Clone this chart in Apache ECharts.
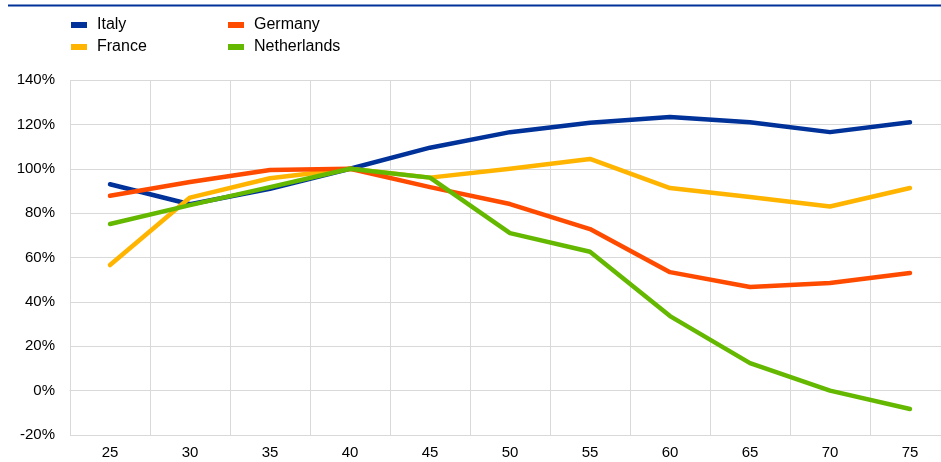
<!DOCTYPE html>
<html>
<head>
<meta charset="utf-8">
<script src="https://cdn.jsdelivr.net/npm/echarts@6/dist/echarts.min.js"></script>
<style>
html,body{margin:0;padding:0;background:#fff;overflow:hidden;width:941px;height:462px;}
#c{width:950px;height:462px;}
</style>
</head>
<body>
<div id="c"></div>
<script>
const categories = ['25','30','35','40','45','50','55','60','65','70','75'];
const italy = [93, 84, 91, 100, 109.5, 116.5, 120.7, 123.3, 121, 116.5, 121];
const france = [56.6, 87, 95.7, 100, 96, 100, 104.4, 91.3, 87.3, 83, 91.3];
const germany = [87.8, 94, 99.4, 100, 91.7, 84.1, 72.8, 53.4, 46.7, 48.5, 53];
const netherlands = [75.1, 83.6, 91.7, 100, 96, 71, 62.6, 33.6, 12.4, 0, -8.3];
const yTicks = [-20, 0, 20, 40, 60, 80, 100, 120, 140];

const colors = {Italy:'#003299', France:'#FFB400', Germany:'#FF4B00', Netherlands:'#65B800'};
const font = 'Liberation Sans, Arial, sans-serif';

const chart = echarts.init(document.getElementById('c'), null, {renderer:'canvas'});

function legendAt(name, left, top){
  return {
    data:[name], left:left, top:top, orient:'horizontal',
    itemWidth:16, itemHeight:6, icon:'rect', padding:0,
    textStyle:{fontFamily:font, fontSize:16, color:'#000', padding:[0,0,0,5]},
    selectedMode:false
  };
}
function mk(name, data){
  return {
    name:name, type:'line', data:data, symbol:'none', smooth:false,
    lineStyle:{width:4.5, color:colors[name], cap:'round', join:'round'},
    itemStyle:{color:colors[name]}
  };
}

chart.setOption({
  animation:false,
  backgroundColor:'#fff',
  graphic:[{type:'line', shape:{x1:8,y1:5.5,x2:950,y2:5.5}, style:{stroke:'#003299', lineWidth:2}}],
  legend:[
    legendAt('Italy', 71, 17),
    legendAt('Germany', 228, 17),
    legendAt('France', 71, 39),
    legendAt('Netherlands', 228, 39)
  ],
  grid:{left:70, top:80, width:880, height:355, containLabel:false},
  xAxis:{
    type:'category', data:categories, boundaryGap:true,
    axisLine:{show:true, lineStyle:{color:'#d9d9d9', width:1}},
    axisTick:{show:false},
    axisLabel:{fontFamily:font, fontSize:15, color:'#000', margin:10},
    splitLine:{show:true, lineStyle:{color:'#d9d9d9', width:1}}
  },
  yAxis:{
    type:'value', min:yTicks[0], max:yTicks[yTicks.length-1], interval:20,
    axisLine:{show:false}, axisTick:{show:false},
    axisLabel:{fontFamily:font, fontSize:15, color:'#000', margin:15, formatter:v=>v+'%'},
    splitLine:{show:true, lineStyle:{color:'#d9d9d9', width:1}}
  },
  series:[mk('Italy', italy), mk('France', france), mk('Germany', germany), mk('Netherlands', netherlands)]
});
</script>
</body>
</html>
